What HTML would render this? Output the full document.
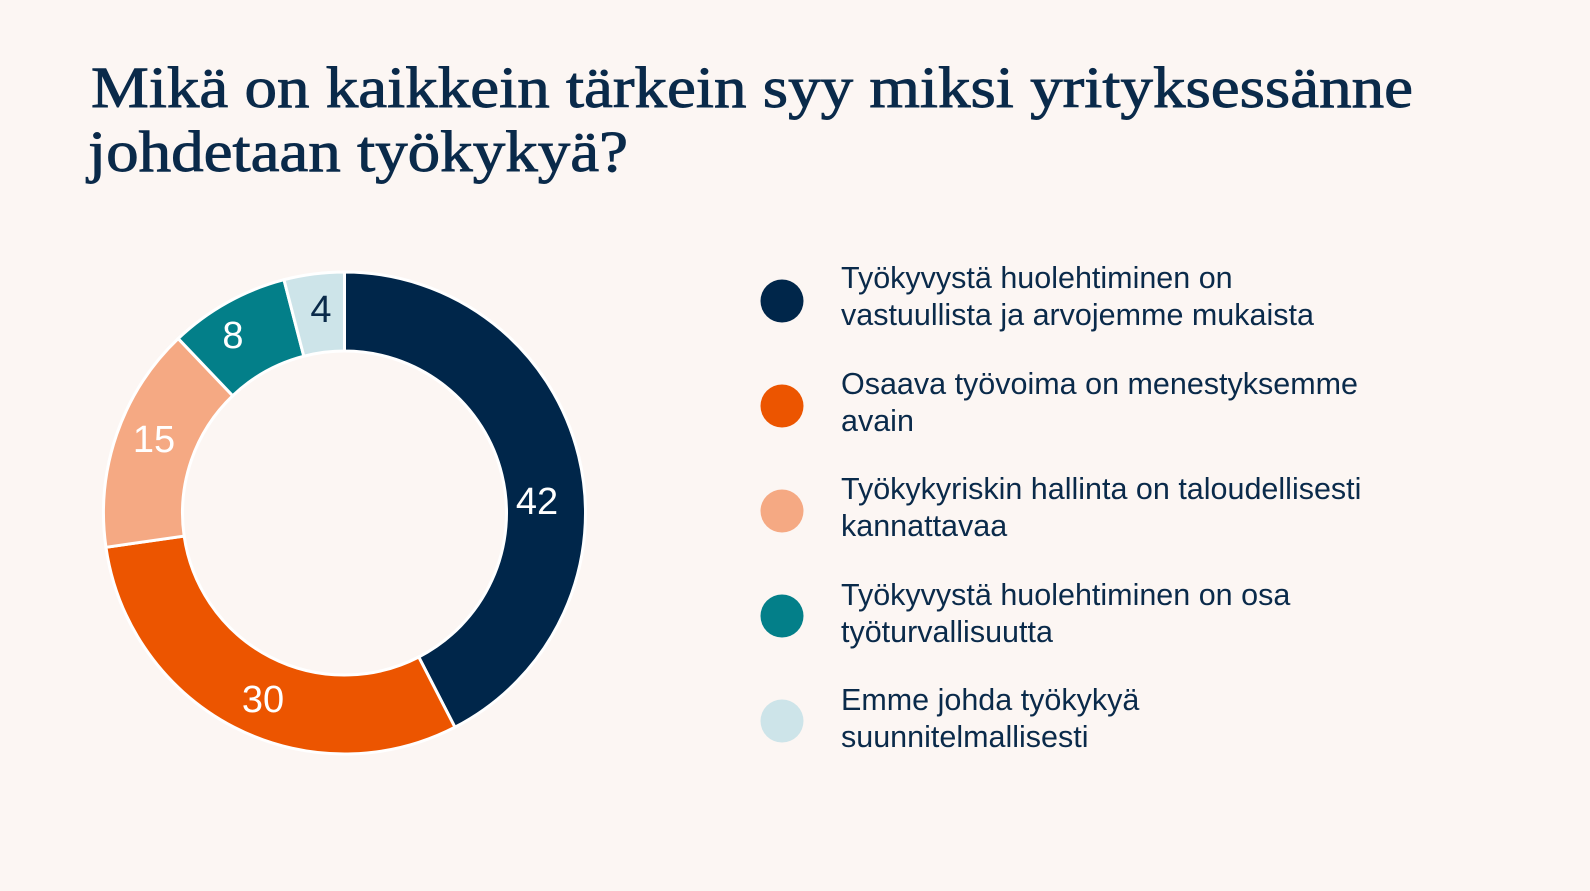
<!DOCTYPE html>
<html><head><meta charset="utf-8"><style>
html,body{margin:0;padding:0;background:#FCF6F3;}
svg{display:block;}
</style></head><body>
<svg id="s" width="1590" height="891" viewBox="0 0 1590 891" xmlns="http://www.w3.org/2000/svg">
<rect width="1590" height="891" fill="#FCF6F3"/>
<g font-family="'Liberation Serif', serif" fill="#0A2A4A" stroke="#0A2A4A" stroke-width="0.9" font-size="58">
<text x="91" y="107" textLength="1322" lengthAdjust="spacingAndGlyphs">Mikä on kaikkein tärkein syy miksi yrityksessänne</text>
<text x="88" y="171" textLength="540" lengthAdjust="spacingAndGlyphs">johdetaan työkykyä?</text>
</g>
<g id="donut"></g>
<g font-family="'Liberation Sans', sans-serif" font-size="38" text-anchor="middle" fill="#fff">
<text x="537" y="514">42</text>
<text x="263" y="712">30</text>
<text x="154" y="452">15</text>
<text x="233" y="348">8</text>
<text x="321" y="322" fill="#0A2A4A">4</text>
</g>
<g font-family="'Liberation Sans', sans-serif" font-size="30.5" fill="#0A2A4A">
<circle cx="782" cy="301" r="21.5" fill="#00264A"/>
<text x="841" y="288">Työkyvystä huolehtiminen on</text>
<text x="841" y="325">vastuullista ja arvojemme mukaista</text>
<circle cx="782" cy="406" r="21.5" fill="#EC5500"/>
<text x="841" y="394">Osaava työvoima on menestyksemme</text>
<text x="841" y="431">avain</text>
<circle cx="782" cy="511" r="21.5" fill="#F5A983"/>
<text x="841" y="499">Työkykyriskin hallinta on taloudellisesti</text>
<text x="841" y="536">kannattavaa</text>
<circle cx="782" cy="616" r="21.5" fill="#037F89"/>
<text x="841" y="605">Työkyvystä huolehtiminen on osa</text>
<text x="841" y="642">työturvallisuutta</text>
<circle cx="782" cy="721" r="21.5" fill="#CDE4E9"/>
<text x="841" y="710">Emme johda työkykyä</text>
<text x="841" y="747">suunnitelmallisesti</text>
</g>
</svg>
<script>
(function(){
var cx=344.5,cy=513,R=241,r=162;
var vals=[42,30,15,8,4],cols=["#00264A","#EC5500","#F5A983","#037F89","#CDE4E9"];
var tot=99,a=0,g=document.getElementById("donut"),out="";
function pt(rad,ang){return [cx+rad*Math.sin(ang),cy-rad*Math.cos(ang)];}
for(var i=0;i<vals.length;i++){
 var a2=a+vals[i]/tot*2*Math.PI,l=(a2-a)>Math.PI?1:0;
 var p1=pt(R,a),p2=pt(R,a2),p3=pt(r,a2),p4=pt(r,a);
 out+='<path d="M'+p1+' A'+R+' '+R+' 0 '+l+' 1 '+p2+' L'+p3+' A'+r+' '+r+' 0 '+l+' 0 '+p4+' Z" fill="'+cols[i]+'" stroke="#fff" stroke-width="3"/>';
 a=a2;
}
g.innerHTML=out;
})();
</script>
</body></html>
